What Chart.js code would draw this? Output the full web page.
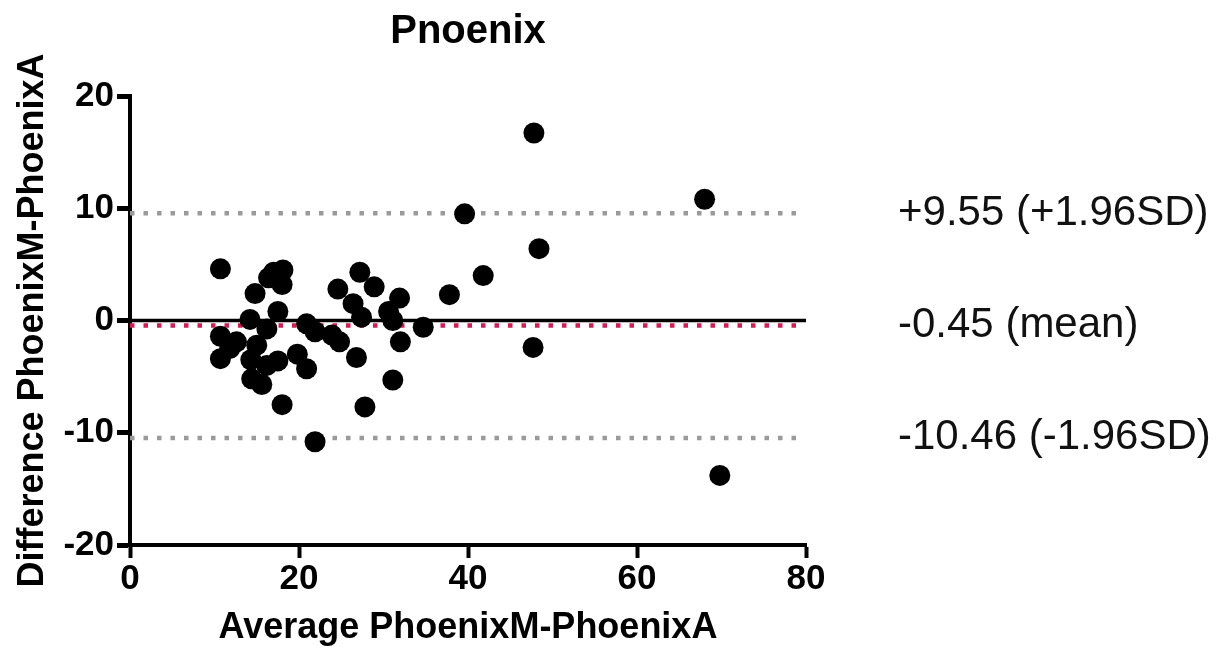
<!DOCTYPE html>
<html>
<head>
<meta charset="utf-8">
<script src="https://cdn.jsdelivr.net/npm/chart.js@4"></script>
<style>
  html, body { margin: 0; padding: 0; background: #fff; }
  #wrap { width: 1232px; height: 666px; position: relative; }
</style>
</head>
<body>
<div id="wrap"><canvas id="baChart"></canvas></div>
<script>
// Bland-Altman data: average vs difference
const avgValues = [
  10.7, 10.7, 10.7, 11.8, 12.6, 14.2, 14.8, 14.3, 15.0, 14.4,
  15.6, 16.2, 16.4, 17.0, 18.1, 18.0, 17.5, 16.2, 17.5, 18.0,
  19.8, 20.9, 20.9, 21.9, 21.9, 23.9, 24.8, 24.6, 26.4, 27.2,
  27.4, 26.8, 27.8, 28.9, 30.6, 31.1, 31.9, 32.0, 31.1, 34.7,
  37.8, 39.6, 41.8, 47.8, 48.4, 47.7, 68.0, 69.8
];
const diffValues = [
  4.6, -1.4, -3.4, -2.5, -1.9, 0.1, 2.4, -3.5, -2.2, -5.2,
  -5.7, -0.75, 3.8, 4.3, 4.5, 3.2, 0.8, -4.0, -3.6, -7.5,
  -3.0, -4.3, -0.3, -1.0, -10.8, -1.3, -1.9, 2.8, 1.5, 4.3,
  0.3, -3.3, -7.7, 3.0, 0.8, 0.0, 2.0, -1.9, -5.3, -0.6,
  2.3, 9.5, 4.0, 16.7, 6.4, -2.4, 10.8, -13.8
];

const meanDiff = -0.45;
const upperLimit = 9.55;
const lowerLimit = -10.46;
const refLabels = ['+9.55 (+1.96SD)', '-0.45 (mean)', '-10.46 (-1.96SD)'];
const refValues = [upperLimit, meanDiff, lowerLimit];

const xTicks = [0, 20, 40, 60, 80];
const yTicks = [-20, -10, 0, 10, 20];

const points = avgValues.map((x, i) => ({ x: x, y: diffValues[i] }));

function flatLine(y, x0, x1) {
  return [{ x: x0, y: y }, { x: x1, y: y }];
}

// right-hand text labels for the limit lines
const sideLabels = {
  id: 'sideLabels',
  afterDraw(chart) {
    const ctx = chart.ctx;
    const yScale = chart.scales.y;
    ctx.save();
    ctx.fillStyle = '#111';
    ctx.font = '42px "Liberation Sans", Arial, sans-serif';
    ctx.textAlign = 'left';
    ctx.textBaseline = 'middle';
    refValues.forEach((v, i) => {
      ctx.fillText(refLabels[i], 898, yScale.getPixelForValue(v));
    });
    ctx.restore();
  }
};

const fontFam = '"Liberation Sans", Arial, sans-serif';

new Chart(document.getElementById('baChart'), {
  type: 'scatter',
  data: {
    datasets: [
      {
        label: 'Points',
        data: points,
        backgroundColor: '#000',
        borderWidth: 0,
        pointRadius: 10.5,
        order: 0
      },
      {
        type: 'line',
        label: 'Zero',
        data: flatLine(0, 0, 80),
        borderColor: '#000',
        borderWidth: 3.5,
        pointRadius: 0,
        order: 2
      },
      {
        type: 'line',
        label: 'Mean',
        data: flatLine(meanDiff, 0, 79),
        borderColor: '#d81b55',
        borderWidth: 4.5,
        borderDash: [4.5, 9],
        pointRadius: 0,
        order: 1
      },
      {
        type: 'line',
        label: 'Upper',
        data: flatLine(upperLimit, 0, 79),
        borderColor: '#9a9a9a',
        borderWidth: 4.5,
        borderDash: [4.5, 9],
        pointRadius: 0,
        order: 3
      },
      {
        type: 'line',
        label: 'Lower',
        data: flatLine(lowerLimit, 0, 79),
        borderColor: '#9a9a9a',
        borderWidth: 4.5,
        borderDash: [4.5, 9],
        pointRadius: 0,
        order: 3
      }
    ]
  },
  options: {
    responsive: true,
    maintainAspectRatio: false,
    animation: false,
    layout: { padding: { top: 0, right: 426, bottom: 0, left: 0 } },
    plugins: {
      legend: { display: false },
      tooltip: { enabled: false },
      title: {
        display: true,
        text: 'Pnoenix',
        fullSize: false,
        color: '#000',
        font: { family: fontFam, size: 40, weight: 'bold' },
        padding: { top: 8, bottom: 40 }
      }
    },
    scales: {
      x: {
        type: 'linear',
        min: 0,
        max: 80,
        afterBuildTicks: s => { s.ticks = xTicks.map(v => ({ value: v })); },
        afterFit: s => { s.height = 121; },
        border: { display: true, color: '#000', width: 4 },
        grid: {
          drawOnChartArea: false,
          drawTicks: true,
          tickLength: 13,
          tickWidth: 4,
          tickColor: '#000'
        },
        ticks: {
          color: '#000',
          padding: 0,
          font: { family: fontFam, size: 35, weight: 'bold' }
        },
        title: {
          display: true,
          text: 'Average PhoenixM-PhoenixA',
          color: '#000',
          font: { family: fontFam, size: 36, weight: 'bold' },
          padding: { top: 0, bottom: 16 }
        }
      },
      y: {
        type: 'linear',
        min: -20,
        max: 20,
        afterBuildTicks: s => { s.ticks = yTicks.map(v => ({ value: v })); },
        afterFit: s => { s.width = 130; },
        border: { display: true, color: '#000', width: 4 },
        grid: {
          drawOnChartArea: false,
          drawTicks: true,
          tickLength: 13,
          tickWidth: 5,
          tickColor: '#000'
        },
        ticks: {
          color: '#000',
          padding: 3,
          font: { family: fontFam, size: 35, weight: 'bold' }
        },
        title: {
          display: true,
          text: 'Difference PhoenixM-PhoenixA',
          color: '#000',
          font: { family: fontFam, size: 36, weight: 'bold' },
          padding: { top: 11, bottom: 0 }
        }
      }
    }
  },
  plugins: [sideLabels]
});
</script>
</body>
</html>
